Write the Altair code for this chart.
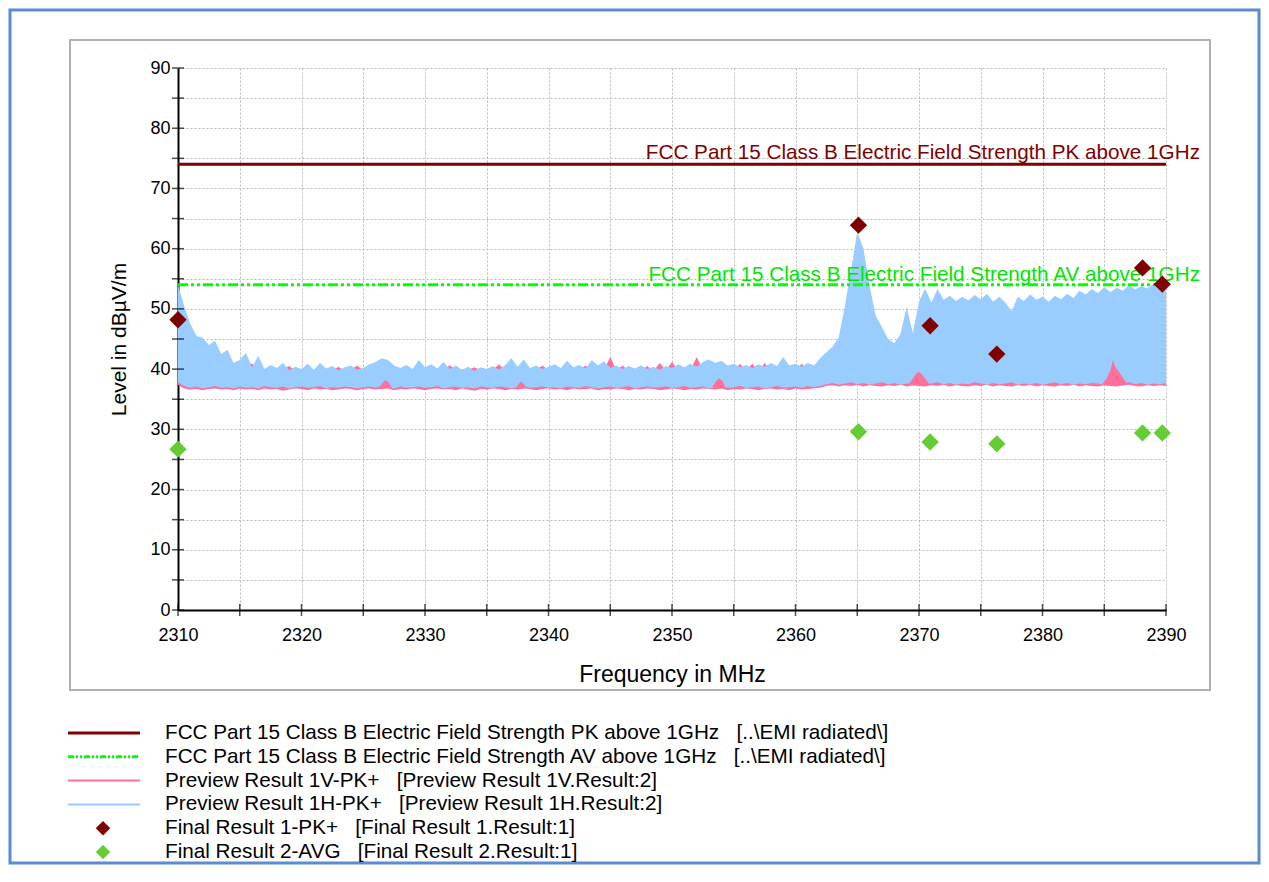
import altair as alt
import pandas as pd

FONT = "Liberation Sans"

# ---------------- data ----------------
FREQ = [
    2310.0, 2310.5, 2311.0, 2311.5, 2312.0, 2312.5, 2313.0, 2313.5, 2314.0, 2314.5,
    2315.0, 2315.5, 2316.0, 2316.5, 2317.0, 2317.5, 2318.0, 2318.5, 2319.0, 2319.5,
    2320.0, 2320.5, 2321.0, 2321.5, 2322.0, 2322.5, 2323.0, 2323.5, 2324.0, 2324.5,
    2325.0, 2325.5, 2326.0, 2326.5, 2327.0, 2327.5, 2328.0, 2328.5, 2329.0, 2329.5,
    2330.0, 2330.5, 2331.0, 2331.5, 2332.0, 2332.5, 2333.0, 2333.5, 2334.0, 2334.5,
    2335.0, 2335.5, 2336.0, 2336.5, 2337.0, 2337.5, 2338.0, 2338.5, 2339.0, 2339.5,
    2340.0, 2340.5, 2341.0, 2341.5, 2342.0, 2342.5, 2343.0, 2343.5, 2344.0, 2344.5,
    2345.0, 2345.5, 2346.0, 2346.5, 2347.0, 2347.5, 2348.0, 2348.5, 2349.0, 2349.5,
    2350.0, 2350.5, 2351.0, 2351.5, 2352.0, 2352.5, 2353.0, 2353.5, 2354.0, 2354.5,
    2355.0, 2355.5, 2356.0, 2356.5, 2357.0, 2357.5, 2358.0, 2358.5, 2359.0, 2359.5,
    2360.0, 2360.5, 2361.0, 2361.5, 2362.0, 2362.5, 2363.0, 2363.5, 2364.0, 2364.5,
    2365.0, 2365.5, 2366.0, 2366.5, 2367.0, 2367.5, 2368.0, 2368.5, 2369.0, 2369.5,
    2370.0, 2370.5, 2371.0, 2371.5, 2372.0, 2372.5, 2373.0, 2373.5, 2374.0, 2374.5,
    2375.0, 2375.5, 2376.0, 2376.5, 2377.0, 2377.5, 2378.0, 2378.5, 2379.0, 2379.5,
    2380.0, 2380.5, 2381.0, 2381.5, 2382.0, 2382.5, 2383.0, 2383.5, 2384.0, 2384.5,
    2385.0, 2385.5, 2386.0, 2386.5, 2387.0, 2387.5, 2388.0, 2388.5, 2389.0, 2389.5,
    2390.0,
]

# Preview Result 1H-PK+ (blue trace): upper and lower envelope
BLUE_MAX = [
    54.0, 50.5, 47.5, 45.5, 45.2, 44.0, 44.7, 42.5, 43.2, 41.0,
    41.5, 42.7, 40.3, 42.2, 40.0, 40.7, 40.2, 41.0, 39.8, 40.4,
    40.0, 40.9, 39.9, 41.0, 40.1, 40.5, 39.8, 40.3, 40.6, 39.9,
    40.2, 40.8, 41.2, 41.8, 41.5, 40.6, 40.2, 40.7, 40.0, 41.5,
    40.3, 40.8, 40.1, 41.2, 40.0, 40.6, 39.9, 40.4, 39.7, 40.3,
    40.0, 40.5, 39.9, 40.7, 41.8, 40.4, 41.6, 40.2, 40.6, 40.0,
    40.4, 40.8, 40.2, 41.4, 40.3, 40.7, 40.1, 41.5, 40.6, 41.3,
    40.2, 40.6, 40.0, 40.5, 40.1, 40.6, 40.0, 40.4, 39.9, 40.5,
    40.2, 40.8, 40.3, 40.9, 40.4, 41.2, 41.6, 41.0, 41.4, 40.6,
    40.9, 40.3, 40.7, 40.2, 40.8, 40.4, 41.0, 40.5, 42.0, 40.6,
    40.9, 40.4, 41.0, 40.6, 41.8, 42.8, 43.7, 45.3, 50.5, 56.5,
    62.8, 60.0, 53.8, 48.8, 47.0, 45.0, 44.3, 45.8, 50.3, 46.0,
    51.2, 53.4, 51.0, 53.3, 51.5, 52.2, 51.3, 52.0, 51.4, 52.3,
    51.6, 52.5, 51.2, 52.0, 51.0, 49.6, 52.0, 51.3, 52.4, 51.5,
    52.0, 51.2, 52.2, 51.6, 52.5, 51.8, 53.0, 52.4, 53.3, 52.6,
    53.6, 52.8, 53.5, 53.0, 54.0, 53.2, 53.8, 53.4, 54.2, 53.6,
    53.0,
]
BLUE_MIN = [
    37.8, 37.2, 36.9, 37.1, 36.8, 37.0, 37.2, 36.9, 37.0, 36.8,
    37.1, 36.9, 37.0, 36.8, 37.2, 37.0, 36.9, 37.1, 36.8, 37.0,
    37.1, 36.9, 37.0, 37.2, 36.8, 37.0, 36.9, 37.1, 37.0, 36.8,
    37.0, 37.1, 36.9, 37.2, 37.0, 36.8, 37.1, 36.9, 37.0, 37.1,
    36.9, 37.0, 37.2, 36.8, 37.0, 37.1, 36.9, 37.0, 36.8, 37.1,
    37.0, 36.9, 37.1, 37.0, 36.8, 37.0, 37.2, 36.9, 37.0, 37.1,
    36.9, 37.0, 36.8, 37.1, 37.0, 36.9, 37.2, 37.0, 36.8, 37.0,
    37.1, 36.9, 37.0, 37.2, 36.8, 37.0, 37.1, 36.9, 37.0, 37.1,
    36.9, 37.0, 37.2, 36.9, 37.0, 37.1, 36.8, 37.0, 37.1, 36.9,
    37.0, 37.2, 36.9, 37.0, 37.1, 36.8, 37.0, 37.2, 36.9, 37.0,
    37.1, 36.9, 37.2, 37.0, 37.2, 37.5, 37.7, 37.4, 37.6, 37.8,
    37.5, 37.7, 37.4, 37.6, 37.8, 37.5, 37.7, 37.4, 37.6, 37.5,
    37.7, 37.4, 37.6, 37.8, 37.5, 37.7, 37.4, 37.6, 37.5, 37.8,
    37.6, 37.4, 37.7, 37.5, 37.6, 37.8, 37.4, 37.6, 37.5, 37.7,
    37.4, 37.6, 37.8, 37.5, 37.7, 37.4, 37.6, 37.5, 37.7, 37.6,
    37.4, 37.7, 37.5, 37.6, 37.8, 37.5, 37.7, 37.4, 37.6, 37.5,
    37.7,
]

# Preview Result 1V-PK+ (pink trace): upper and lower envelope
PINK_MAX = [
    51.5, 48.5, 45.0, 44.0, 43.5, 42.5, 42.8, 41.5, 42.0, 40.5,
    40.8, 41.0, 40.9, 40.2, 39.8, 39.9, 39.8, 40.0, 40.5, 39.8,
    39.7, 39.9, 39.8, 39.6, 39.9, 39.8, 40.4, 39.7, 39.9, 40.6,
    39.8, 39.7, 40.0, 39.9, 39.8, 39.7, 39.9, 39.6, 39.8, 39.9,
    39.7, 39.8, 39.9, 39.6, 40.7, 39.8, 39.7, 39.9, 40.3, 39.8,
    39.7, 39.9, 40.8, 39.8, 39.6, 39.9, 39.7, 39.8, 39.9, 40.6,
    39.8, 39.7, 39.9, 39.8, 39.6, 39.9, 40.6, 39.8, 39.7, 39.9,
    42.0, 39.8, 40.6, 39.7, 39.9, 39.8, 40.5, 39.7, 41.0, 39.8,
    41.2, 39.9, 39.7, 39.8, 42.0, 39.9, 39.8, 39.7, 39.9, 39.8,
    39.7, 40.9, 39.8, 40.9, 39.7, 41.0, 39.8, 39.9, 39.7, 39.8,
    39.9, 40.9, 39.8, 39.7, 39.9, 39.2, 39.0, 38.8, 38.9, 38.7,
    38.8, 38.9, 38.7, 38.8, 38.9, 38.7, 38.8, 38.9, 38.7, 38.8,
    38.9, 38.8, 38.9, 38.7, 38.8, 38.9, 38.7, 38.8, 38.9, 38.7,
    38.8, 38.9, 38.7, 38.8, 38.9, 38.7, 38.8, 38.9, 38.7, 38.8,
    38.9, 38.7, 38.8, 38.9, 38.7, 38.8, 38.9, 38.7, 38.8, 38.9,
    38.8, 38.9, 38.8, 38.8, 38.7, 38.9, 38.8, 38.7, 38.9, 38.8,
    38.7,
]
PINK_MIN = [
    37.4, 36.8, 36.6, 36.7, 36.5, 36.7, 36.8, 36.6, 36.7, 36.5,
    36.8, 36.6, 36.7, 36.5, 36.8, 36.6, 36.7, 36.4, 36.6, 36.8,
    36.7, 36.5, 36.8, 36.6, 36.7, 36.5, 36.6, 36.8, 36.7, 36.5,
    36.7, 36.8, 36.6, 36.7, 36.8, 36.5, 36.7, 36.6, 36.8, 36.7,
    36.5, 36.7, 36.8, 36.6, 36.7, 36.5, 36.8, 36.6, 36.4, 36.7,
    36.6, 36.8, 36.7, 36.5, 36.7, 36.6, 36.8, 36.7, 36.5, 36.7,
    36.8, 36.6, 36.7, 36.5, 36.8, 36.6, 36.7, 36.8, 36.5, 36.7,
    36.6, 36.8, 36.7, 36.5, 36.7, 36.6, 36.8, 36.7, 36.5, 36.6,
    36.8, 36.7, 36.5, 36.7, 36.6, 36.8, 36.7, 36.6, 36.8, 36.5,
    36.7, 36.6, 36.8, 36.7, 36.5, 36.7, 36.8, 36.6, 36.7, 36.5,
    36.8, 36.6, 36.7, 36.8, 36.9, 37.2, 37.3, 37.1, 37.3, 37.2,
    37.4, 37.1, 37.3, 37.2, 37.1, 37.3, 37.2, 37.4, 37.1, 37.3,
    37.2, 37.1, 37.3, 37.2, 37.4, 37.1, 37.3, 37.2, 37.1, 37.3,
    37.2, 37.4, 37.1, 37.3, 37.2, 37.1, 37.3, 37.2, 37.4, 37.1,
    37.3, 37.2, 37.1, 37.3, 37.2, 37.4, 37.1, 37.3, 37.2, 37.1,
    37.3, 37.2, 37.1, 37.3, 37.4, 37.2, 37.1, 37.3, 37.2, 37.3,
    37.2,
]

# solid bumps of the pink trace that show on top of the blue one
BUMP_ID = [1] * 5 + [2] * 5 + [3] * 5 + [4] * 7 + [5] * 8
BUMP_FREQ = [
    2326.3, 2326.55, 2326.8, 2327.05, 2327.3,
    2337.4, 2337.6, 2337.8, 2338.0, 2338.2,
    2353.3, 2353.55, 2353.8, 2354.05, 2354.3,
    2369.2, 2369.5, 2369.8, 2370.0, 2370.2, 2370.5, 2370.8,
    2384.9, 2385.2, 2385.5, 2385.7, 2385.9, 2386.2, 2386.5, 2386.8,
]
BUMP_LO = [
    36.9, 36.9, 36.9, 36.9, 36.9,
    36.9, 36.9, 36.9, 36.9, 36.9,
    36.9, 36.9, 36.9, 36.9, 36.9,
    37.3, 37.3, 37.3, 37.3, 37.3, 37.3, 37.3,
    37.3, 37.3, 37.3, 37.3, 37.3, 37.3, 37.3, 37.3,
]
BUMP_HI = [
    37.0, 37.7, 38.2, 37.8, 37.0,
    37.0, 37.6, 37.9, 37.5, 37.0,
    37.1, 38.0, 38.5, 38.1, 37.1,
    37.6, 38.4, 39.3, 39.5, 39.2, 38.4, 37.6,
    37.7, 38.5, 39.8, 41.5, 40.3, 39.5, 38.6, 37.7,
]

# final results
PK_FREQ = [2310.0, 2365.1, 2370.9, 2376.3, 2388.1, 2389.7]
PK_LEVEL = [48.2, 63.9, 47.2, 42.5, 56.8, 54.1]
AVG_FREQ = [2310.0, 2365.1, 2370.9, 2376.3, 2388.1, 2389.7]
AVG_LEVEL = [26.7, 29.6, 27.9, 27.6, 29.4, 29.4]

# limit lines
LIMIT_NAMES = [
    "FCC Part 15 Class B Electric Field Strength PK above 1GHz",
    "FCC Part 15 Class B Electric Field Strength AV above 1GHz",
]
LIMIT_LEVELS = [74.0, 54.0]
LIMIT_START = [2310.0, 2310.0]
LIMIT_END = [2390.0, 2390.0]

X_TICKS = [2310, 2315, 2320, 2325, 2330, 2335, 2340, 2345, 2350, 2355,
           2360, 2365, 2370, 2375, 2380, 2385, 2390]
Y_TICKS = [0, 5, 10, 15, 20, 25, 30, 35, 40, 45, 50, 55, 60, 65, 70, 75, 80, 85, 90]

SP = "\u00a0\u00a0\u00a0"
LEGEND_LABELS = [
    "FCC Part 15 Class B Electric Field Strength PK above 1GHz" + SP + "[..\\EMI radiated\\]",
    "FCC Part 15 Class B Electric Field Strength AV above 1GHz" + SP + "[..\\EMI radiated\\]",
    "Preview Result 1V-PK+" + SP + "[Preview Result 1V.Result:2]",
    "Preview Result 1H-PK+" + SP + "[Preview Result 1H.Result:2]",
    "Final Result 1-PK+" + SP + "[Final Result 1.Result:1]",
    "Final Result 2-AVG" + SP + "[Final Result 2.Result:1]",
]

# ---------------- styling ----------------
C_PK = "#800000"
C_AV = "#00ff00"
C_AV_TEXT = "#00e600"
C_PINK = "#ff7099"
C_BLUE = "#99ccff"
C_AVG = "#66cc33"
AV_DASH = [10, 3, 3, 3, 3, 3]
TXT = 20.7

W, H = 988, 542

xs = alt.Scale(domain=[2310, 2390], nice=False, zero=False)
ys = alt.Scale(domain=[0, 90], nice=False, zero=False)

XAXIS = alt.Axis(
    values=X_TICKS, labelExpr="datum.value % 10 === 0 ? datum.label : ''",
    format="d", title="Frequency in MHz", grid=True, gridDash=[2, 2],
    gridColor="#b8b8b8", gridWidth=1, ticks=False, domainColor="black",
    domainWidth=2, labelFont=FONT, labelFontSize=18, labelColor="black",
    labelPadding=16, titleFont=FONT, titleFontSize=23, titleFontWeight="normal",
    titleColor="black", titlePadding=19, labelOverlap=False, labelFlush=False,
)
YAXIS = alt.Axis(
    values=Y_TICKS, labelExpr="datum.value % 10 === 0 ? datum.label : ''",
    format="d", title="Level in dBµV/m", grid=True, gridDash=[2, 2],
    gridColor="#b8b8b8", gridWidth=1, ticks=False, domainColor="black",
    domainWidth=2, labelFont=FONT, labelFontSize=18, labelColor="black",
    labelPadding=8, titleFont=FONT, titleFontSize=21, titleFontWeight="normal",
    titleColor="black", titlePadding=20, labelOverlap=False, labelFlush=False,
)

spec = pd.DataFrame({"f": FREQ, "blue_lo": BLUE_MIN, "blue_hi": BLUE_MAX,
                     "pink_lo": PINK_MIN, "pink_hi": PINK_MAX})
bumps = pd.DataFrame({"id": BUMP_ID, "f": BUMP_FREQ, "lo": BUMP_LO, "hi": BUMP_HI})
pk = pd.DataFrame({"f": PK_FREQ, "level": PK_LEVEL})
avg = pd.DataFrame({"f": AVG_FREQ, "level": AVG_LEVEL})
limits = pd.DataFrame({"name": LIMIT_NAMES, "level": LIMIT_LEVELS,
                       "f0": LIMIT_START, "f1": LIMIT_END})
xt = pd.DataFrame({"v": X_TICKS})
yt = pd.DataFrame({"v": Y_TICKS})
one = pd.DataFrame({"k": [0]})

X = lambda fld: alt.X(fld, scale=xs, axis=XAXIS)
Y = lambda fld: alt.Y(fld, scale=ys, axis=YAXIS)

layers = []

# outer frames (decoration)
layers.append(alt.Chart(one).mark_rect(fill="white", fillOpacity=0, stroke="#b0b0b0", strokeWidth=2).encode(
    x=alt.value(-108), x2=alt.value(1032), y=alt.value(-28), y2=alt.value(622)))
layers.append(alt.Chart(one).mark_rect(fill="white", fillOpacity=0, stroke="#5b8bd0", strokeWidth=3).encode(
    x=alt.value(-168), x2=alt.value(1081), y=alt.value(-58), y2=alt.value(795)))

# spectra
layers.append(alt.Chart(spec).mark_area(color=C_PINK, opacity=1).encode(
    x=X("f:Q"), y=Y("pink_lo:Q"), y2="pink_hi:Q"))
layers.append(alt.Chart(spec).mark_area(color=C_BLUE, opacity=1).encode(
    x=X("f:Q"), y=Y("blue_lo:Q"), y2="blue_hi:Q"))
layers.append(alt.Chart(bumps).mark_area(color=C_PINK, opacity=1).encode(
    x=X("f:Q"), y=Y("lo:Q"), y2="hi:Q", detail="id:N"))

# limit lines
layers.append(alt.Chart(limits).transform_filter(alt.datum.level > 60).mark_rule(
    color=C_PK, strokeWidth=3).encode(x=X("f0:Q"), x2="f1:Q", y=Y("level:Q")))
layers.append(alt.Chart(limits).transform_filter(alt.datum.level < 60).mark_rule(
    color=C_AV, strokeWidth=3, strokeDash=AV_DASH).encode(x=X("f0:Q"), x2="f1:Q", y=Y("level:Q")))
layers.append(alt.Chart(limits).transform_filter(alt.datum.level > 60).mark_text(
    align="right", baseline="alphabetic", dx=34, dy=-5, font=FONT, fontSize=TXT, color=C_PK).encode(
    x=X("f1:Q"), y=Y("level:Q"), text="name:N"))
layers.append(alt.Chart(limits).transform_filter(alt.datum.level < 60).mark_text(
    align="right", baseline="alphabetic", dx=34, dy=-4, font=FONT, fontSize=TXT, color=C_AV_TEXT).encode(
    x=X("f1:Q"), y=Y("level:Q"), text="name:N"))

# crossing axis ticks
layers.append(alt.Chart(xt).mark_tick(orient="vertical", size=12, thickness=1.5, color="black").encode(
    x=X("v:Q"), y=alt.value(H)))
layers.append(alt.Chart(yt).mark_tick(orient="horizontal", size=12, thickness=1.5, color="black").encode(
    y=Y("v:Q"), x=alt.value(0)))

# final results
layers.append(alt.Chart(pk).mark_point(shape="diamond", filled=True, size=300, opacity=1, color=C_PK).encode(
    x=X("f:Q"), y=Y("level:Q")))
layers.append(alt.Chart(avg).mark_point(shape="diamond", filled=True, size=300, opacity=1, color=C_AVG).encode(
    x=X("f:Q"), y=Y("level:Q")))

# legend (drawn below the plot frame)
LEG_KIND = ["line", "dash", "thin", "thin", "diamond", "diamond"]
LEG_COLOR = [C_PK, C_AV, C_PINK, C_BLUE, C_PK, C_AVG]
for i, (lab, kind, col) in enumerate(zip(LEGEND_LABELS, LEG_KIND, LEG_COLOR)):
    yy = 665 + 23.8 * i
    if kind == "diamond":
        layers.append(alt.Chart(one).mark_point(shape="diamond", filled=True, size=210, opacity=1, color=col).encode(
            x=alt.value(-75), y=alt.value(yy)))
    else:
        kw = dict(color=col, strokeWidth=3 if kind != "thin" else 2)
        if kind == "dash":
            kw["strokeDash"] = [6, 2, 2, 2, 2, 2]
        layers.append(alt.Chart(one).mark_rule(**kw).encode(
            x=alt.value(-110), x2=alt.value(-38), y=alt.value(yy)))
    layers.append(alt.Chart(one).mark_text(align="left", baseline="middle", font=FONT, fontSize=TXT, color="black").encode(
        x=alt.value(-13), y=alt.value(yy), text=alt.value(lab)))

chart = alt.layer(*layers).properties(
    width=W, height=H,
    padding={"left": 170, "top": 60, "right": 95, "bottom": 256},
    autosize=alt.AutoSizeParams(type="none"),
    background="white",
).configure_view(stroke=None)

chart.save("out.html", embed_options={"renderer": "svg", "actions": False})
